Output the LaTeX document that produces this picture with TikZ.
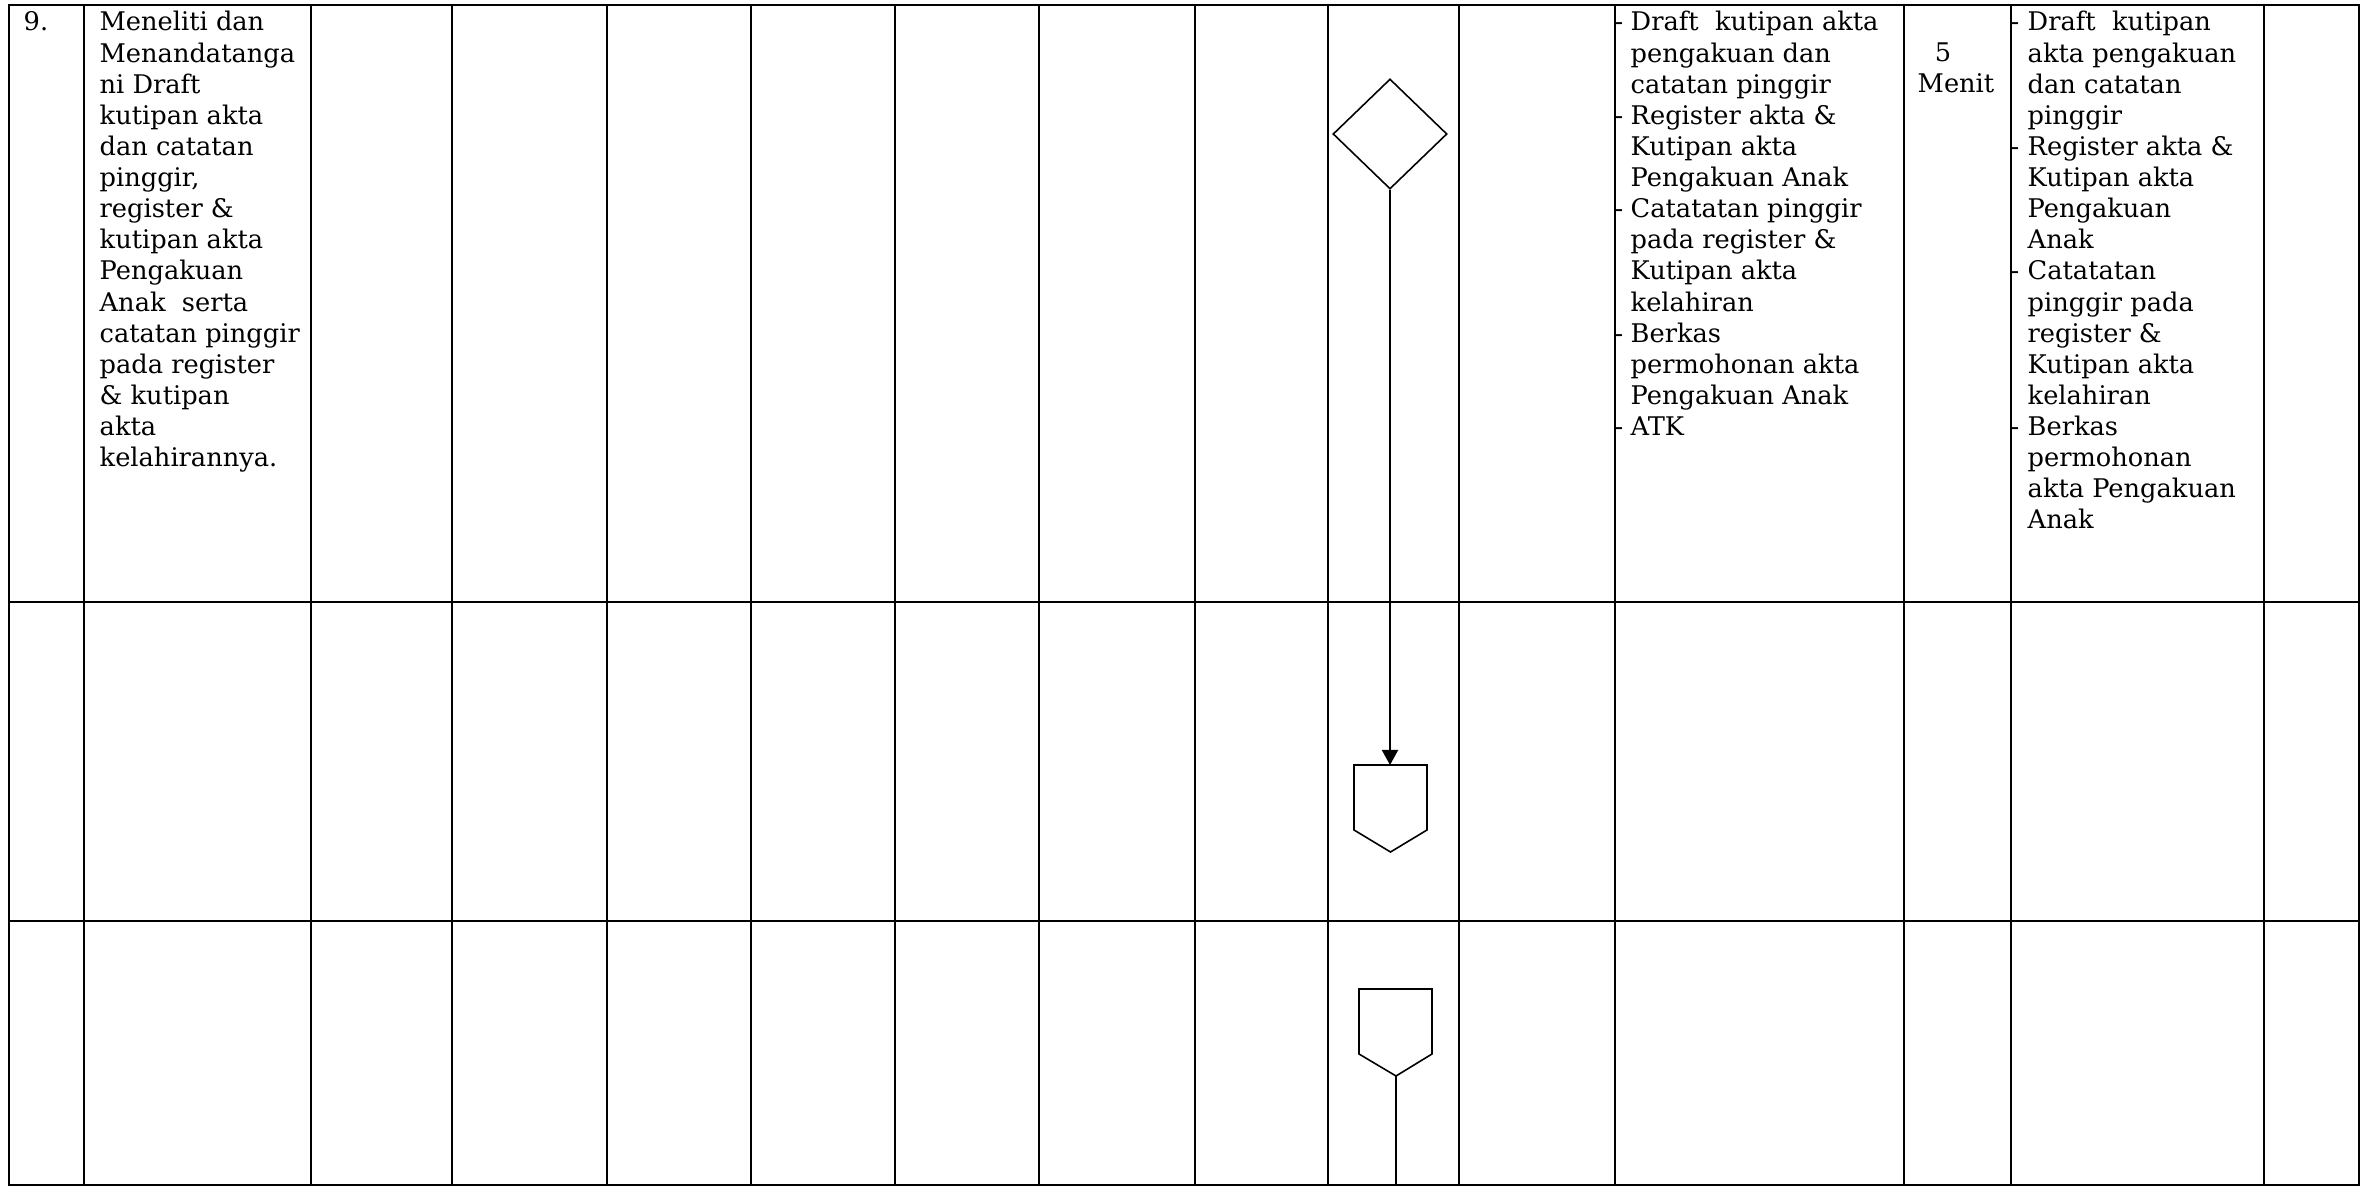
\documentclass[tikz,border=0pt]{standalone}
\usepackage{fontspec}
\setmainfont{DejaVu Serif}
\usetikzlibrary{arrows.meta,shapes.geometric}
\newcommand{\celllines}[1]{\begin{tabular}[t]{@{}l@{}}#1\end{tabular}}
\begin{document}
\begin{tikzpicture}[x=0.01cm, y=-0.01cm,
  gridline/.style={line width=0.7pt},
  shp/.style={draw, line width=0.45pt},
  txt/.style={anchor=base west, inner sep=0pt, font=\fontsize{7.3}{8.85}\selectfont},
  dashmark/.style={anchor=base east, inner sep=0pt, font=\fontsize{7.3}{8.85}\selectfont}]
\useasboundingbox (0,0) rectangle (2360,1186);
% table grid
\draw[gridline] (9,5) rectangle (2359,1185);
\foreach \x in {84,311,452,607,751,895,1039,1195,1328,1459,1615,1904,2011,2264}
  \draw[gridline] (\x,5) -- (\x,1185);
\foreach \y in {602,921}
  \draw[gridline] (9,\y) -- (2359,\y);
% texts
\node[txt] (num) at (23,31) {9.};
\node[txt] (step) at (99,31) {\celllines{Meneliti dan\\ Menandatanga\\ ni Draft\\ kutipan akta\\ dan catatan\\ pinggir,\\ register \&\\ kutipan akta\\ Pengakuan\\ Anak\ \ serta\\ catatan pinggir\\ pada register\\ \& kutipan\\ akta\\ kelahirannya.}};
\node[txt] (kel) at (1630,31) {\celllines{Draft\ \ kutipan akta\\ pengakuan dan\\ catatan pinggir\\ Register akta \&\\ Kutipan akta\\ Pengakuan Anak\\ Catatatan pinggir\\ pada register \&\\ Kutipan akta\\ kelahiran\\ Berkas\\ permohonan akta\\ Pengakuan Anak\\ ATK}};
\foreach \yy [count=\i] in {31,124.3,217.7,342.3,435.7}
  \node[dashmark] (da\i) at (1624,\yy) {-};
\node[txt, anchor=base] (five) at (1943,62) {5};
\node[txt] (menit) at (1917,93) {Menit};
\node[txt] (out) at (2027,31) {\celllines{Draft\ \ kutipan\\ akta pengakuan\\ dan catatan\\ pinggir\\ Register akta \&\\ Kutipan akta\\ Pengakuan\\ Anak\\ Catatatan\\ pinggir pada\\ register \&\\ Kutipan akta\\ kelahiran\\ Berkas\\ permohonan\\ akta Pengakuan\\ Anak}};
\foreach \yy [count=\i] in {31,155.5,280,435.7}
  \node[dashmark] (db\i) at (2020,\yy) {-};
% flow shapes
\node[diamond, shp, minimum width=1.14cm, minimum height=1.10cm, inner sep=0pt] (dm) at (1390,134) {};
\coordinate (p1top) at (1390,765);
\draw[shp] (1354,765) -- (1427,765) -- (1427,830) -- (1390.5,852) -- (1354,830) -- cycle;
\draw[line width=0.6pt, -{Triangle[length=0.15cm,width=0.16cm]}] (dm.south) -- (p1top);
\coordinate (p2tip) at (1396,1076);
\coordinate (p2end) at (1396,1186);
\draw[shp] (1359,989) -- (1432,989) -- (1432,1054) -- (p2tip) -- (1359,1054) -- cycle;
\draw[line width=0.6pt] (p2tip) -- (p2end);
\end{tikzpicture}
\end{document}
